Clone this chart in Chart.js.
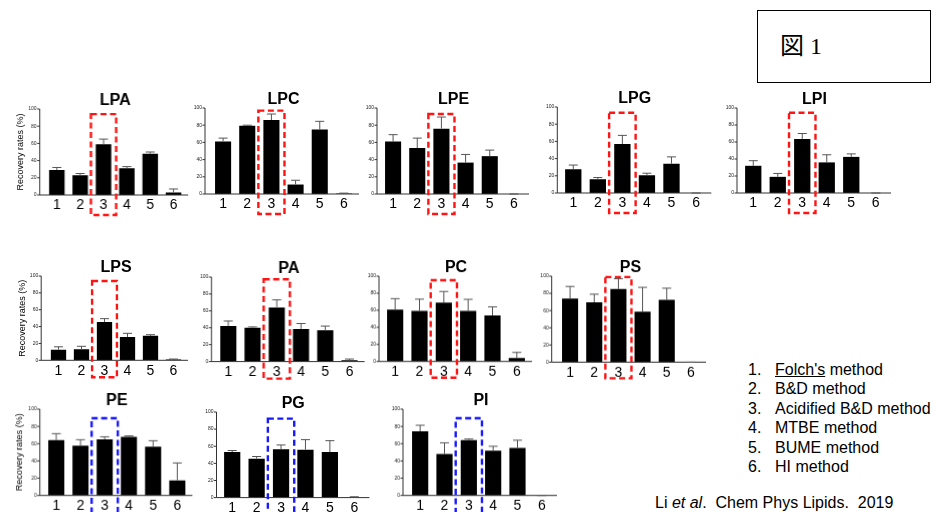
<!DOCTYPE html>
<html>
<head>
<meta charset="utf-8">
<script src="https://cdn.jsdelivr.net/npm/chart.js@4.4.1/dist/chart.umd.min.js"></script>
<style>
  body { margin: 0; width: 936px; height: 512px; background: #fff; position: relative; overflow: hidden;
         font-family: Arial, "Liberation Sans", sans-serif; color: #000; }
  .panel { position: absolute; }
  #fig { position: absolute; left: 757px; top: 10px; border: 1.5px solid #000;
         font-family: "Liberation Serif", "Noto Sans CJK JP", serif; font-size: 24px; line-height: 70px;
         padding-left: 22px; box-sizing: border-box; width: 174px; height: 73px; }
  #methods { position: absolute; left: 748px; top: 360px; font-size: 16px; line-height: 19.4px; }
  #methods span { display: inline-block; width: 27px; }
  #cite { position: absolute; left: 655px; top: 494px; font-size: 16px; white-space: pre; }
</style>
</head>
<body>
<div id="fig">図 1</div>
<div id="methods">
  <div><span>1.</span><u>Folch's</u> method</div>
  <div><span>2.</span>B&amp;D method</div>
  <div><span>3.</span>Acidified B&amp;D method</div>
  <div><span>4.</span>MTBE method</div>
  <div><span>5.</span>BUME method</div>
  <div><span>6.</span>HI method</div>
</div>
<div id="cite">Li <i>et al</i>.  Chem Phys Lipids.  2019</div>
<script>
const methods = ['1', '2', '3', '4', '5', '6'];

// recovery rates (%) : mean and upper SD
const LPA = [29, 23, 59, 31, 48, 3];
const LPA_sd = [3, 2, 6, 2, 2, 4];
const LPC = [61, 79.5, 86, 11, 75, 0.5];
const LPC_sd = [4, 0.5, 7, 5, 9.5, 0.5];
const LPE = [61, 53.5, 76, 36.5, 44, 0];
const LPE_sd = [8, 11.5, 13.5, 9.5, 7, 0];
const LPG = [27.5, 16, 57, 20.5, 34, 0];
const LPG_sd = [5, 2, 10, 2.5, 8, 0];
const LPI = [32, 19, 63.5, 36, 42.5, 0];
const LPI_sd = [6, 4, 6.5, 9, 3.5, 0];
const LPS = [12.6, 13, 45.5, 27.7, 29, 1];
const LPS_sd = [3.4, 3.6, 3.9, 4.3, 1.4, 0.5];
const PA = [42, 40, 64, 38.6, 37, 1.5];
const PA_sd = [6, 1, 9, 6.4, 5, 1.5];
const PC = [60.6, 59.4, 69, 59.4, 54, 4];
const PC_sd = [13, 13.6, 13, 13.4, 10, 6.6];
const PS = [74, 69.5, 85, 58.6, 72.6, 0];
const PS_sd = [14, 9.5, 12, 28.4, 13.4, 0];
const PE = [64, 57.6, 65, 68, 56.4, 17.5];
const PE_sd = [7.6, 7, 3, 1, 7, 20.2];
const PG = [53.3, 45.5, 56.4, 56, 53.3, 0.3];
const PG_sd = [1.7, 2.5, 5.1, 11.7, 13.2, 0.7];
const PI = [74.3, 48.2, 64, 52, 55, 0];
const PI_sd = [7, 12.8, 1.4, 5, 9, 0];

const values = { LPA, LPC, LPE, LPG, LPI, LPS, PA, PC, PS, PE, PG, PI };
const errors = { LPA: LPA_sd, LPC: LPC_sd, LPE: LPE_sd, LPG: LPG_sd, LPI: LPI_sd, LPS: LPS_sd,
                 PA: PA_sd, PC: PC_sd, PS: PS_sd, PE: PE_sd, PG: PG_sd, PI: PI_sd };

// panel placement on the page (axis x, plot left/right, y of 100 and 0), highlight box
const RED = '#ff1414', BLUE = '#1a1aff';
const panels = [
  { name: 'LPA', axis: 40,    left: 45.4,  right: 184.6, top: 109,   zero: 195,   box: 94,   drop: 20, color: RED,  yTitle: true },
  { name: 'LPC', axis: 205,   left: 211,   right: 356,   top: 108.3, zero: 194.3, box: 97,   drop: 20, color: RED },
  { name: 'LPE', axis: 377,   left: 381,   right: 526,   top: 108,   zero: 194,   box: 93,   drop: 20, color: RED },
  { name: 'LPG', axis: 557,   left: 560.7, right: 708,   top: 107,   zero: 193,   box: 93.4, drop: 20, color: RED },
  { name: 'LPI', axis: 737,   left: 741,   right: 888,   top: 108,   zero: 193,   box: 94.5, drop: 20, color: RED },
  { name: 'LPS', axis: 40.7,  left: 46.5,  right: 184.5, top: 275.7, zero: 360,   box: 94,   drop: 17, color: RED,  yTitle: true },
  { name: 'PA',  axis: 211.7, left: 216.4, right: 361,   top: 276.7, zero: 361.3, box: 97.3, drop: 17, color: RED },
  { name: 'PC',  axis: 379,   left: 383,   right: 529,   top: 276,   zero: 360.7, box: 95.3, drop: 16, color: RED },
  { name: 'PS',  axis: 551.7, left: 558,   right: 703,   top: 276.3, zero: 361.7, box: 99,   drop: 16, color: RED },
  { name: 'PE',  axis: 40,    left: 44.3,  right: 188.7, top: 409.3, zero: 495,   box: 89.5, drop: 30, color: BLUE, yTitle: true },
  { name: 'PG',  axis: 216,   left: 219.5, right: 366,   top: 411.7, zero: 497.3, box: 92.3, drop: 30, color: BLUE },
  { name: 'PI',  axis: 403,   left: 408,   right: 554,   top: 409.3, zero: 495,   box: 89.5, drop: 30, color: BLUE }
];

const Y_W = 30, TITLE_H = 16, X_H = 22, PAD_B = 12, PAD_R = 4;

function DrawPanel(p) {
  const vals = values[p.name];
  const sds = errors[p.name];

  const div = document.createElement('div');
  div.className = 'panel';
  div.style.left = (p.left - Y_W) + 'px';
  div.style.top = (p.top - TITLE_H) + 'px';
  div.style.width = (p.right - p.left + Y_W + PAD_R) + 'px';
  div.style.height = (TITLE_H + (p.zero - p.top) + X_H + PAD_B) + 'px';
  const canvas = document.createElement('canvas');
  div.appendChild(canvas);
  document.body.appendChild(div);

  // prism style axes, upper error bars and the dashed box around method 3
  const prism = {
    id: 'prism',
    afterDatasetsDraw(chart) {
      const ctx = chart.ctx;
      const x = chart.scales.x, y = chart.scales.y;
      const y0 = y.getPixelForValue(0), y100 = y.getPixelForValue(100);
      const ax = chart.chartArea.left - (p.left - p.axis);
      ctx.save();
      ctx.strokeStyle = '#333';
      ctx.lineWidth = 1;
      ctx.beginPath();
      ctx.moveTo(ax, y100);
      ctx.lineTo(ax, y0);
      ctx.lineTo(chart.chartArea.right + 3, y0);
      for (let v = 0; v <= 100; v += 20) {
        const ty = y.getPixelForValue(v);
        ctx.moveTo(ax - 2.5, ty);
        ctx.lineTo(ax, ty);
      }
      ctx.stroke();

      ctx.strokeStyle = '#555';
      chart.getDatasetMeta(0).data.forEach((bar, i) => {
        const top = y.getPixelForValue(vals[i] + sds[i]);
        ctx.beginPath();
        ctx.moveTo(bar.x, bar.y);
        ctx.lineTo(bar.x, top);
        ctx.moveTo(bar.x - 4.5, top);
        ctx.lineTo(bar.x + 4.5, top);
        ctx.stroke();
      });

      const cx = x.getPixelForValue(2);
      const half = 0.54 * (x.getPixelForValue(1) - x.getPixelForValue(0));
      const bt = y.getPixelForValue(p.box);
      ctx.strokeStyle = p.color;
      ctx.lineWidth = 2.4;
      ctx.setLineDash([6, 3.5]);
      ctx.strokeRect(cx - half, bt, 2 * half, y0 + p.drop - bt);
      ctx.restore();
    }
  };

  new Chart(canvas, {
    type: 'bar',
    data: {
      labels: methods,
      datasets: [{
        data: vals,
        backgroundColor: '#000',
        borderColor: '#000',
        borderWidth: 0,
        barPercentage: 0.7,
        categoryPercentage: 0.95
      }]
    },
    options: {
      animation: false,
      responsive: true,
      maintainAspectRatio: false,
      layout: { padding: { top: 0, left: 0, right: PAD_R, bottom: PAD_B } },
      plugins: {
        legend: { display: false },
        tooltip: { enabled: false },
        title: {
          display: true,
          text: p.name,
          fullSize: false,
          color: '#000',
          padding: 0,
          font: { family: 'Arial', size: 16, weight: 'bold', lineHeight: 1 }
        }
      },
      scales: {
        x: {
          grid: { display: false, drawTicks: false },
          border: { display: false },
          ticks: { color: '#000', padding: 2, font: { family: 'Arial', size: 14 } },
          afterFit: s => { s.height = X_H; }
        },
        y: {
          min: 0,
          max: 100,
          grid: { display: false, drawTicks: false },
          border: { display: false },
          ticks: { stepSize: 20, color: '#222', padding: p.left - p.axis + 3, font: { family: 'Arial', size: 5 } },
          title: {
            display: !!p.yTitle,
            text: 'Recovery rates (%)',
            color: '#000',
            padding: 0,
            font: { family: 'Arial', size: 9 }
          },
          afterFit: s => { s.width = Y_W; }
        }
      }
    },
    plugins: [prism]
  });
}

panels.forEach(DrawPanel);
</script>
</body>
</html>
